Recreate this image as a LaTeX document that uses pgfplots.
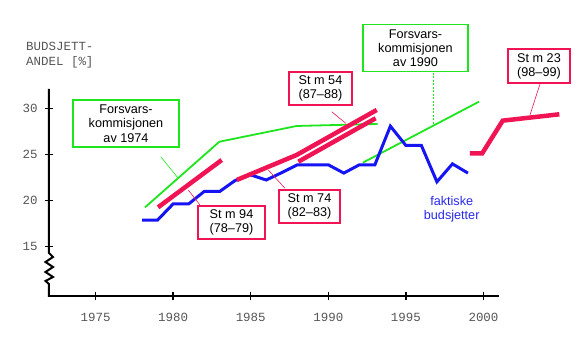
\documentclass[border=0pt]{standalone}
\usepackage{pgfplots}
\pgfplotsset{compat=1.18}
\usepackage{fontspec}
\setmainfont{Liberation Sans}
\newfontfamily\mono{Liberation Mono}
\definecolor{sred}{RGB}{240,20,85}
\definecolor{sgreen}{RGB}{30,230,30}
\definecolor{sblue}{RGB}{20,20,245}
\definecolor{tblue}{RGB}{40,40,235}
\definecolor{tgray}{RGB}{85,85,85}
\newcommand{\lab}{\fontsize{12.7}{14.2}\selectfont}
\newcommand{\monof}{\mono\fontsize{12.5}{15}\selectfont}

\pgfplotstableread{
year val
1978 17.9
1979 17.9
1980 19.65
1981 19.65
1982 21.0
1983 21.0
1984 22.2
1985 22.8
1986 22.25
1987 23.05
1988 23.9
1989 23.9
1990 23.9
1991 23.0
1992 23.9
1993 23.9
1994 28.1
1995 26.0
1996 26.0
1997 22.05
1998 24.0
1999 23.0
}\faktisk

\begin{document}
\begin{tikzpicture}
\begin{axis}[
  at={(0,0)}, anchor=south west,
  x=15.517bp, y=9.2bp,
  xmin=1972, xmax=2001, ymin=9.64, ymax=32.1,
  clip=false,
  axis x line*=bottom, axis y line*=left,
  x axis line style={line width=2bp,-},
  y axis line style={draw=none},
  xtick={1975,1980,...,2000}, ytick={15,20,25,30},
  tick align=center, major tick length=8bp,
  tick style={line width=1.5bp,black},
  /pgf/number format/assume math mode=true,
  /pgf/number format/1000 sep={},
  xticklabel style={font=\monof, text=tgray, yshift=-10bp},
  yticklabel style={font=\monof, text=tgray, xshift=-4bp},
]
% Forsvarskommisjonen av 1974
\addplot[sgreen, line width=1.8bp] coordinates {(1978.19,19.28) (1982.98,26.41) (1987.96,28.12) (1993.18,28.34)};
% Forsvarskommisjonen av 1990
\addplot[sgreen, line width=1.8bp] coordinates {(1992.22,24.13) (1999.71,30.76)};
% faktiske budsjetter
\addplot[sblue, line width=3bp] table[x=year,y=val] {\faktisk};
% St m 94
\addplot[sred, line width=4.5bp] coordinates {(1979.03,19.28) (1983.13,24.42)};
% St m 74
\addplot[sred, line width=4.5bp] coordinates {(1984.1,22.25) (1987.96,24.97) (1993.12,29.86)};
% St m 54
\addplot[sred, line width=4.5bp] coordinates {(1988.07,24.24) (1993.05,28.96)};
% St m 23
\addplot[sred, line width=4.5bp] coordinates {(1999.13,25.15) (1999.92,25.15) (2001.24,28.7) (2004.89,29.39)};
\end{axis}
\begin{scope}[x=1bp,y=-1bp,shift={(-49bp,296bp)}]
  % broken y axis
  \draw[line width=2bp, line join=miter] (49,89) -- (49,253) -- (53,257) -- (45.5,262) -- (53,267) -- (45.5,272) -- (53,277) -- (45.5,281) -- (49,284) -- (49,297);
  % header
  \node[anchor=base west, inner sep=0pt, font=\monof, text=tgray] at (26,51) {BUDSJETT-};
  \node[anchor=base west, inner sep=0pt, font=\monof, text=tgray] at (26,66) {ANDEL [\%]};
  % leaders
  \draw[sgreen, line width=0.6bp] (160.7,156.7) -- (178.3,178.3);
  \draw[sred, line width=0.6bp] (188.3,190) -- (200,205);
  \draw[sred, line width=0.6bp] (268.3,170) -- (285,188.3);
  \draw[sred, line width=0.6bp] (331.7,111.7) -- (345.7,123.3);
  \draw[sgreen, line width=0.6bp, dash pattern=on 2bp off 1.5bp] (433.3,73) -- (433.3,125);
  \draw[sred, line width=0.6bp] (540,84) -- (530,115);
  % boxes
  \node[draw=sgreen, fill=white, line width=1.8bp, minimum width=106bp, minimum height=47bp, inner sep=0pt, align=center, font=\lab] at (126,123.7) {Forsvars-\\kommisjonen\\av 1974};
  \node[draw=sred, fill=white, line width=1.6bp, minimum width=67bp, minimum height=33bp, inner sep=0pt, align=center, font=\lab] at (231.5,222.7) {St m 94\\(78--79)};
  \node[draw=sred, fill=white, line width=1.6bp, minimum width=61bp, minimum height=33bp, inner sep=0pt, align=center, font=\lab] at (309.5,206.5) {St m 74\\(82--83)};
  \node[draw=sred, fill=white, line width=1.6bp, minimum width=63bp, minimum height=33bp, inner sep=0pt, align=center, font=\lab] at (320.5,88.5) {St m 54\\(87--88)};
  \node[draw=sgreen, fill=white, line width=1.8bp, minimum width=105bp, minimum height=47bp, inner sep=0pt, align=center, font=\lab] at (415.5,48) {Forsvars-\\kommisjonen\\av 1990};
  \node[draw=sred, fill=white, line width=1.6bp, minimum width=62bp, minimum height=34bp, inner sep=0pt, align=center, font=\lab] at (539,66) {St m 23\\(98--99)};
  \node[inner sep=0pt, align=center, font=\lab, text=tblue] at (451.7,209) {faktiske\\budsjetter};
\end{scope}
\pgfresetboundingbox
\useasboundingbox (-49bp,-56bp) rectangle (531bp,296bp);
\end{tikzpicture}
\end{document}
